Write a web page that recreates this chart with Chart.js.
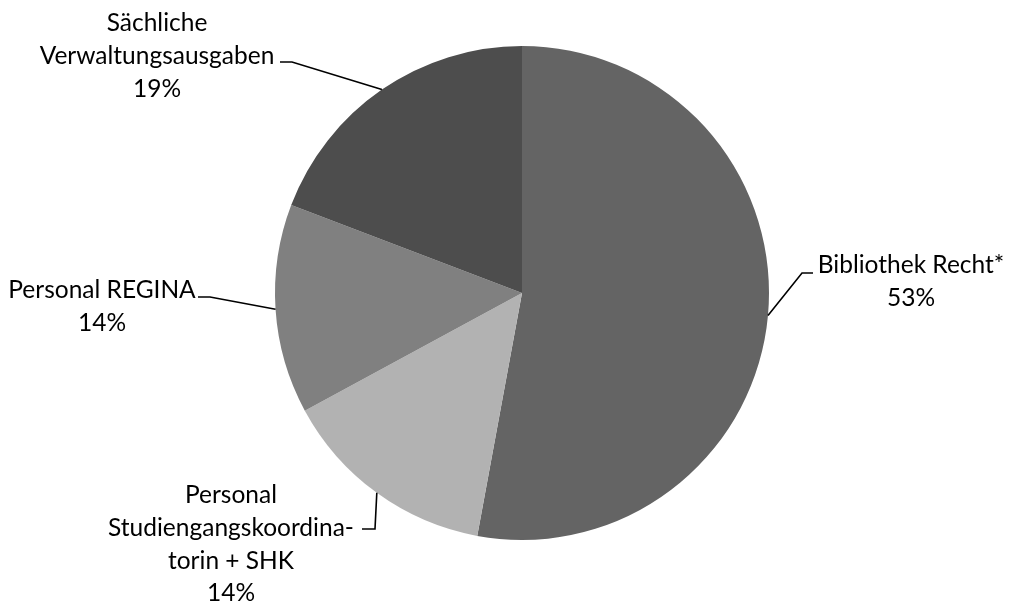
<!DOCTYPE html>
<html>
<head>
<meta charset="utf-8">
<script src="https://cdn.jsdelivr.net/npm/chart.js@4"></script>
<style>
  html, body { margin: 0; padding: 0; background: #fff; }
  #wrap { width: 1015px; height: 603px; }
</style>
</head>
<body>
<div id="wrap"><canvas id="pie"></canvas></div>
<script>
const categories = [
    ['Bibliothek Recht*'],
    ['Personal', 'Studiengangskoordina-', 'torin + SHK'],
    ['Personal REGINA'],
    ['Sächliche', 'Verwaltungsausgaben']
];
const shares = [52.9, 14.2, 13.7, 19.2];
const sliceColors = ['#646464', '#b2b2b2', '#808080', '#4d4d4d'];

// where each label block sits and how its leader line bends
const labelLayout = [
    { cx: 911, baseline: 273, elbow: [802, 273], end: [813, 273] },
    { cx: 231, baseline: 503, elbow: [375, 529], end: [362, 529] },
    { cx: 102, baseline: 298, elbow: [210, 297], end: [198, 297] },
    { cx: 157, baseline: 31, elbow: [292, 62], end: [280, 62] }
];
const lineStep = 32.8;

const labelPlugin = {
    id: 'calloutLabels',
    afterDraw(chart) {
        const ctx = chart.ctx;
        const total = shares.reduce((a, b) => a + b, 0);
        const arcs = chart.getDatasetMeta(0).data;
        ctx.save();
        ctx.strokeStyle = '#000';
        ctx.lineWidth = 1.6;
        ctx.fillStyle = '#000';
        ctx.font = '24.5px Lato, "Open Sans", sans-serif';
        ctx.textAlign = 'center';
        ctx.textBaseline = 'alphabetic';
        arcs.forEach((arc, i) => {
            const p = arc.getProps(['x', 'y', 'startAngle', 'endAngle', 'outerRadius'], true);
            const mid = (p.startAngle + p.endAngle) / 2;
            const ax = p.x + Math.cos(mid) * p.outerRadius;
            const ay = p.y + Math.sin(mid) * p.outerRadius;
            const lay = labelLayout[i];
            ctx.beginPath();
            ctx.moveTo(ax, ay);
            ctx.lineTo(lay.elbow[0], lay.elbow[1]);
            ctx.lineTo(lay.end[0], lay.end[1]);
            ctx.stroke();
            const lines = categories[i].concat([Math.round(shares[i] / total * 100) + '%']);
            lines.forEach((t, k) => {
                ctx.fillText(t, lay.cx, lay.baseline + k * lineStep);
            });
        });
        ctx.restore();
    }
};

new Chart(document.getElementById('pie'), {
    type: 'pie',
    data: {
        labels: categories.map(c => c.join(' ')),
        datasets: [{
            data: shares,
            backgroundColor: sliceColors,
            borderWidth: 0
        }]
    },
    options: {
        responsive: true,
        maintainAspectRatio: false,
        animation: false,
        layout: { padding: { left: 275, right: 246, top: 46, bottom: 63 } },
        plugins: {
            legend: { display: false },
            tooltip: { enabled: false }
        }
    },
    plugins: [labelPlugin]
});
</script>
</body>
</html>
